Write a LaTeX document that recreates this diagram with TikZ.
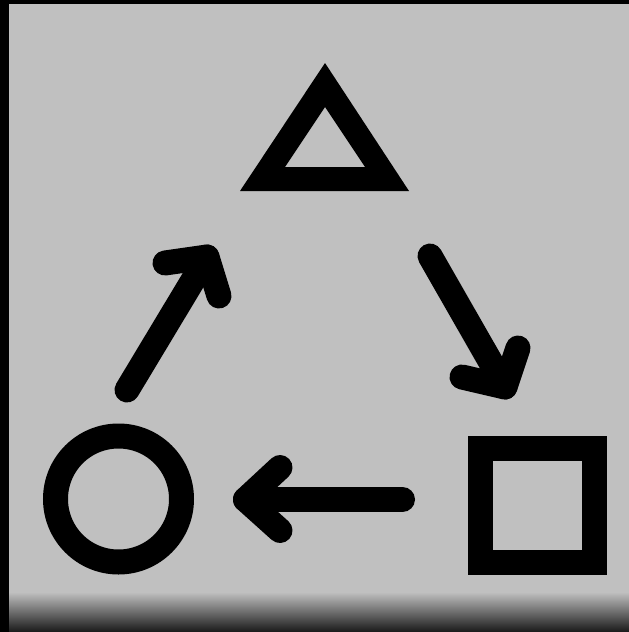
\documentclass[tikz,border=0pt]{standalone}
\usetikzlibrary{shapes.geometric}
\definecolor{bggrey}{RGB}{192,192,192}
\definecolor{shadetop}{RGB}{192,192,192}
\definecolor{shademid}{RGB}{110,110,110}
\definecolor{shadebot}{RGB}{25,25,25}
\tikzset{
  cyclearrow/.style={line width=25pt, line cap=round, line join=round, black},
  ringshape/.style={fill=black, even odd rule},
}
\begin{document}
\begin{tikzpicture}[x=1pt,y=-1pt]
  % frame and background
  \fill[black] (0,0) rectangle (629,632);
  \useasboundingbox (0,0) rectangle (629,632);
  \fill[bggrey] (9,4) rectangle (629,596);
  \shade[top color=shadetop, middle color=shademid, bottom color=shadebot]
    (9,592) rectangle (629,632);

  % triangle
  \coordinate (tri) at (325,150);
  \fill[ringshape] (325,63) -- (409,191) -- (240,191) -- cycle
                   (325,107) -- (365,167) -- (285,167) -- cycle;

  % circle
  \node (circ) [circle, draw=black, line width=25pt, minimum size=126pt, inner sep=0pt]
    at (118.5,499) {};

  % square
  \node (sq) [rectangle, draw=black, line width=25pt, minimum width=114.5pt,
    minimum height=113.5pt, inner sep=0pt] at (537.5,505.5) {};

  % arrow end points
  \coordinate (a1tail) at (127,390);
  \coordinate (a1tip)  at (207,257);
  \coordinate (a1w1)   at (165,263);
  \coordinate (a1w2)   at (219,296);

  \coordinate (a2tail) at (430,256);
  \coordinate (a2tip)  at (505,387);
  \coordinate (a2w1)   at (462,377);
  \coordinate (a2w2)   at (518,348);

  \coordinate (a3tail) at (402.5,499.5);
  \coordinate (a3tip)  at (245.5,499.5);
  \coordinate (a3w1)   at (280,467.5);
  \coordinate (a3w2)   at (280,530.5);

  % arrows
  \draw[cyclearrow] (a1tail) -- (a1tip);
  \draw[cyclearrow] (a1w1) -- (a1tip) -- (a1w2);
  \draw[cyclearrow] (a2tail) -- (a2tip);
  \draw[cyclearrow] (a2w1) -- (a2tip) -- (a2w2);
  \draw[cyclearrow] (a3tail) -- (a3tip);
  \draw[cyclearrow] (a3w1) -- (a3tip) -- (a3w2);
\end{tikzpicture}
\end{document}
